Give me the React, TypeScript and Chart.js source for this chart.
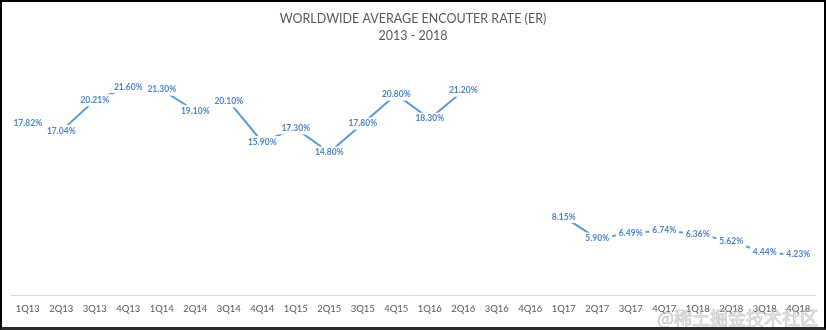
import React, { useEffect, useRef } from "react";
import { Chart, registerables } from "chart.js";

Chart.register(...registerables);

const titleLines = ["WORLDWIDE AVERAGE ENCOUTER RATE (ER)", "2013 - 2018"];
const categories = [
  "1Q13", "2Q13", "3Q13", "4Q13",
  "1Q14", "2Q14", "3Q14", "4Q14",
  "1Q15", "2Q15", "3Q15", "4Q15",
  "1Q16", "2Q16", "3Q16", "4Q16",
  "1Q17", "2Q17", "3Q17", "4Q17",
  "1Q18", "2Q18", "3Q18", "4Q18",
];
const erValues: (number | null)[] = [
  17.82, 17.04, 20.21, 21.6,
  21.3, 19.1, 20.1, 15.9,
  17.3, 14.8, 17.8, 20.8,
  18.3, 21.2, null, null,
  8.15, 5.9, 6.49, 6.74,
  6.36, 5.62, 4.44, 4.23,
];
const watermark = "@稀土掘金技术社区";

const LINE_COLOR = "#5b9bd5";
const LABEL_COLOR = "#4f86c6";
const TEXT_GRAY = "#595959";

const labelPlugin = {
  id: "pointLabels",
  afterDatasetsDraw(chart: any) {
    const ctx = chart.ctx;
    const meta = chart.getDatasetMeta(0);
    const data = chart.data.datasets[0].data;
    ctx.save();
    ctx.font = "bold 8.5px Lato, 'Liberation Sans', sans-serif";
    ctx.textAlign = "center";
    ctx.textBaseline = "middle";
    meta.data.forEach((el: any, i: number) => {
      const v = data[i];
      if (v === null || v === undefined) return;
      const txt = Number(v).toFixed(2) + "%";
      const w = ctx.measureText(txt).width;
      ctx.fillStyle = "#ffffff";
      ctx.fillRect(el.x - w / 2 - 3, el.y - 6, w + 6, 12);
      ctx.fillStyle = LABEL_COLOR;
      ctx.fillText(txt, el.x, el.y);
    });
    ctx.restore();
  },
  afterDraw(chart: any) {
    const ctx = chart.ctx;
    ctx.save();
    ctx.font = "18px 'Noto Sans CJK SC', sans-serif";
    ctx.textAlign = "right";
    ctx.textBaseline = "middle";
    ctx.fillStyle = "rgba(255,255,255,0.35)";
    ctx.strokeStyle = "rgba(150,150,150,0.45)";
    ctx.lineWidth = 1;
    ctx.fillText(watermark, 818, 318);
    ctx.strokeText(watermark, 818, 318);
    ctx.restore();
  },
};

export default function App() {
  const canvasRef = useRef<HTMLCanvasElement | null>(null);

  useEffect(() => {
    if (!canvasRef.current) return;
    const chart = new Chart(canvasRef.current, {
      type: "line",
      data: {
        labels: categories,
        datasets: [
          {
            data: erValues,
            borderColor: LINE_COLOR,
            borderWidth: 2,
            pointRadius: 0,
            pointHoverRadius: 0,
            tension: 0,
            spanGaps: false,
            fill: false,
          },
        ],
      },
      options: {
        animation: false,
        responsive: false,
        maintainAspectRatio: false,
        layout: { padding: { left: 11, right: 11, top: 0, bottom: 7 } },
        plugins: {
          legend: { display: false },
          tooltip: { enabled: false },
          title: {
            display: true,
            text: titleLines,
            color: TEXT_GRAY,
            font: { family: "Lato, 'Liberation Sans', sans-serif", size: 12.5, weight: "normal", lineHeight: 1.36 },
            padding: { top: 10.5, bottom: 9.5 },
          },
        },
        scales: {
          x: {
            offset: true,
            grid: { display: false, drawTicks: false },
            border: { display: true, color: "#d9d9d9", width: 1 },
            ticks: {
              color: TEXT_GRAY,
              font: { family: "Lato, 'Liberation Sans', sans-serif", size: 9.5 },
              padding: 8,
              autoSkip: false,
              maxRotation: 0,
              minRotation: 0,
            },
          },
          y: {
            display: false,
            min: 0,
            max: 25,
          },
        },
      },
      plugins: [labelPlugin],
    });
    return () => chart.destroy();
  }, []);

  return (
    <div style={{ position: "absolute", left: 0, top: 0, width: 826, height: 330, background: "#fff" }}>
      <canvas ref={canvasRef} width={826} height={330} style={{ display: "block", width: 826, height: 330 }} />
      <div
        style={{
          position: "absolute",
          left: 0,
          top: 0,
          width: 826,
          height: 330,
          boxSizing: "border-box",
          borderTop: "2px solid #000",
          borderLeft: "2px solid #000",
          borderRight: "2px solid #000",
          borderBottom: "3px solid #2b2b2b",
          pointerEvents: "none",
        }}
      />
    </div>
  );
}
